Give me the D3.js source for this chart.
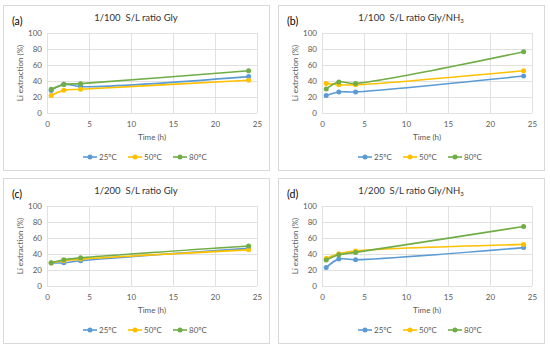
<!DOCTYPE html>
<html>
<head>
<meta charset="UTF-8">
<title>Li extraction</title>
<script src="https://d3js.org/d3.v7.min.js"></script>
<style>
  body { margin: 0; background: #fff; }
  svg { display: block; font-family: Lato, 'Liberation Sans', sans-serif; }
  .title { white-space: pre; }
</style>
</head>
<body>
<svg width="550" height="349"></svg>
<script>
// time points (h)
const times = [0.5, 2, 4, 24];
const seriesNames = ["25ºC", "50ºC", "80ºC"];
const seriesColors = ["#5B9BD5", "#FFC000", "#70AD47"];
const xTicks = [0, 5, 10, 15, 20, 25];
const yTicks = [0, 20, 40, 60, 80, 100];

// Li extraction (%) per panel, one row per temperature
const panelA = [[28, 36, 33, 45.5], [22, 28.3, 29.6, 41], [29.6, 35.5, 36.7, 52.8]];
const panelB = [[21.8, 26.2, 26.4, 46.2], [37, 35.4, 35.2, 52.8], [30, 38.8, 37, 76.6]];
const panelC = [[28.8, 29, 31.6, 47], [28.8, 31.6, 33.6, 45.2], [29, 32.8, 35.2, 50]];
const panelD = [[23, 33.6, 32.8, 48], [34.4, 40.4, 43.8, 52], [32.4, 39, 42, 74.4]];

const panelLabels = ["(a)", "(b)", "(c)", "(d)"];
const panelTitles = [
  ["1/100  S/L ratio Gly", false],
  ["1/100  S/L ratio Gly/NH", true],
  ["1/200  S/L ratio Gly", false],
  ["1/200  S/L ratio Gly/NH", true]
];
const panelData = [panelA, panelB, panelC, panelD];

const svg = d3.select("svg");
const pw = 266, ph = 165;
const m = { left: 44, right: 12, top: 28, bottom: 57 };
const iw = pw - m.left - m.right, ih = ph - m.top - m.bottom;

const x = d3.scaleLinear().domain([0, 25]).range([0, iw]);
const y = d3.scaleLinear().domain([0, 100]).range([ih, 0]);

const line = d3.line()
  .x((d, i) => x(times[i]))
  .y(d => y(d))
  .curve(d3.curveCatmullRom.alpha(0.5));

panelData.forEach((data, p) => {
  const px = 3 + (p % 2) * 275, py = 5 + Math.floor(p / 2) * 173;
  const g = svg.append("g").attr("transform", `translate(${px},${py})`);

  g.append("rect")
    .attr("x", 0.5).attr("y", 0.5)
    .attr("width", pw).attr("height", ph)
    .attr("fill", "#fff").attr("stroke", "#d9d9d9");

  g.append("text")
    .attr("x", 9).attr("y", 20)
    .attr("font-size", 10.5)
    .attr("fill", "#000")
    .text(panelLabels[p]);

  const t = g.append("text")
    .attr("class", "title")
    .attr("x", m.left + iw / 2 - 16).attr("y", 16)
    .attr("text-anchor", "middle")
    .attr("font-size", 9.5)
    .attr("fill", "#333")
    .text(panelTitles[p][0]);
  if (panelTitles[p][1]) {
    t.append("tspan").attr("font-size", 6).attr("dy", 2).text("3");
  }

  const plot = g.append("g").attr("transform", `translate(${m.left},${m.top})`);

  // gridlines
  plot.append("g").selectAll("line").data(yTicks).join("line")
    .attr("x1", 0).attr("x2", iw)
    .attr("y1", d => Math.round(y(d)) + 0.5).attr("y2", d => Math.round(y(d)) + 0.5)
    .attr("stroke", "#d9d9d9").attr("stroke-width", 0.8);
  plot.append("g").selectAll("line").data(xTicks).join("line")
    .attr("y1", 0).attr("y2", ih)
    .attr("x1", d => Math.round(x(d)) + 0.5).attr("x2", d => Math.round(x(d)) + 0.5)
    .attr("stroke", "#d9d9d9").attr("stroke-width", 0.8);

  // axes
  const yAxis = plot.append("g").call(d3.axisLeft(y).tickValues(yTicks).tickSize(0).tickPadding(5));
  const xAxis = plot.append("g").attr("transform", `translate(0,${ih})`)
    .call(d3.axisBottom(x).tickValues(xTicks).tickSize(0).tickPadding(8));
  [yAxis, xAxis].forEach(a => {
    a.select(".domain").remove();
    a.selectAll("text").attr("font-size", 8).attr("fill", "#595959")
      .attr("font-family", "Lato, 'Liberation Sans', sans-serif");
  });

  g.append("text")
    .attr("x", m.left + iw / 2).attr("y", m.top + ih + 27)
    .attr("text-anchor", "middle")
    .attr("font-size", 8).attr("fill", "#595959")
    .text("Time (h)");
  g.append("text")
    .attr("transform", `translate(20,${m.top + ih / 2}) rotate(-90)`)
    .attr("text-anchor", "middle")
    .attr("font-size", 8).attr("fill", "#595959")
    .text("Li extraction (%)");

  // series
  data.forEach((vals, s) => {
    plot.append("path")
      .attr("d", line(vals))
      .attr("fill", "none")
      .attr("stroke", seriesColors[s])
      .attr("stroke-width", 1.6);
    plot.append("g").selectAll("circle").data(vals).join("circle")
      .attr("cx", (d, i) => x(times[i]))
      .attr("cy", d => y(d))
      .attr("r", 2.5)
      .attr("fill", seriesColors[s]);
  });

  // legend
  const lg = g.append("g").attr("transform", `translate(${m.left + iw / 2 - 69},152)`);
  seriesNames.forEach((name, s) => {
    const it = lg.append("g").attr("transform", `translate(${s * 45},0)`);
    it.append("line").attr("x1", 0).attr("x2", 14).attr("y1", 0).attr("y2", 0)
      .attr("stroke", seriesColors[s]).attr("stroke-width", 1.6);
    it.append("circle").attr("cx", 7).attr("cy", 0).attr("r", 2.5).attr("fill", seriesColors[s]);
    it.append("text").attr("x", 16).attr("y", 2.8)
      .attr("font-size", 8).attr("fill", "#595959")
      .text(name);
  });
});
</script>
</body>
</html>
